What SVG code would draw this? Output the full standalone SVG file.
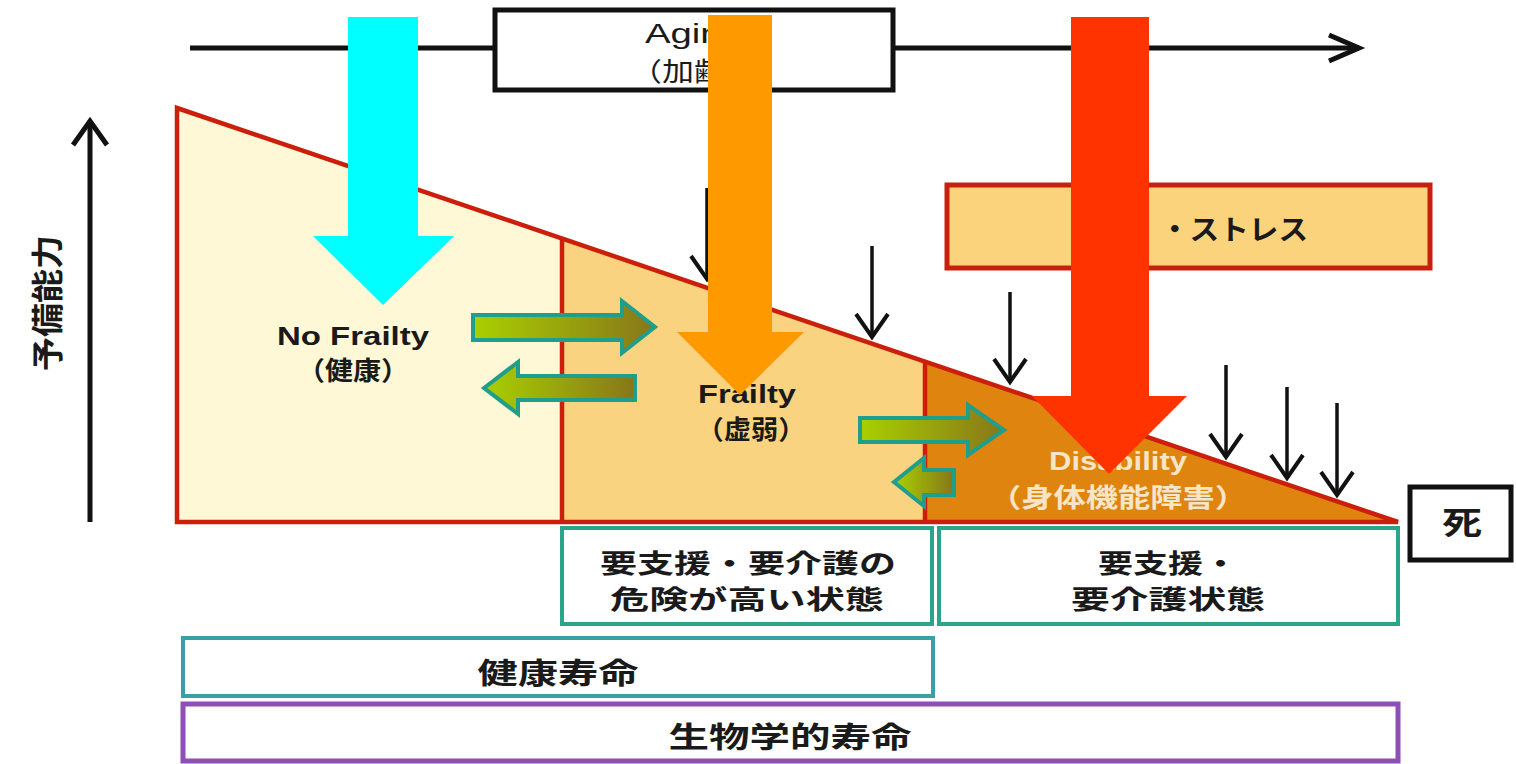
<svg xmlns="http://www.w3.org/2000/svg" width="1516" height="764" viewBox="0 0 1516 764">
<style>
.jp{font-family:"Noto Sans CJK JP","Noto Sans",sans-serif;font-weight:bold;fill:#1a1a1a;text-anchor:middle}
.en{font-family:"Liberation Sans","DejaVu Sans",sans-serif;font-weight:bold;fill:#1a1a1a;text-anchor:middle}
.light{fill:#F6E5C6}
.thin{stroke:#111;stroke-width:3.5;fill:none}
.garrow{fill:url(#gg);stroke:#1F9E8C;stroke-width:4;stroke-linejoin:miter}
.teal{fill:#fff;stroke:#2AA58A;stroke-width:4}
</style>
<defs>
<linearGradient id="gg" x1="0" y1="0" x2="1" y2="0">
<stop offset="0" stop-color="#A9D000"/>
<stop offset="1" stop-color="#88761A"/>
</linearGradient>
<marker id="chev" markerUnits="userSpaceOnUse" markerWidth="40" markerHeight="40" viewBox="-30 -20 40 40" refX="0" refY="0" orient="auto">
<path d="M-23,-16 L0,0 L-23,16" fill="none" stroke="#111" stroke-width="4"/>
</marker>
<marker id="chevBig" markerUnits="userSpaceOnUse" markerWidth="44" markerHeight="44" viewBox="-34 -22 44 44" refX="0" refY="0" orient="auto">
<path d="M-30,-13 L0,0 L-30,13" fill="none" stroke="#111" stroke-width="5"/>
</marker>
<marker id="chevAxis" markerUnits="userSpaceOnUse" markerWidth="44" markerHeight="44" viewBox="-30 -22 44 44" refX="0" refY="0" orient="auto">
<path d="M-24,-17 L0,0 L-24,17" fill="none" stroke="#111" stroke-width="5"/>
</marker>
</defs>
<rect width="1516" height="764" fill="#ffffff"/>

<g id="axis-aging">
<line x1="190" y1="48" x2="1359" y2="48" stroke="#111" stroke-width="5" marker-end="url(#chevBig)"/>
</g>
<g id="node-aging">
<rect x="495" y="10" width="398" height="80" fill="#fff" stroke="#111" stroke-width="5"/>
<text class="en" x="694" y="43" font-size="28" textLength="98" lengthAdjust="spacingAndGlyphs" style="font-weight:normal">Aging</text>
<text class="jp" x="694" y="81" font-size="26" textLength="128" lengthAdjust="spacingAndGlyphs" style="font-weight:normal">（加齢）</text>
</g>

<g id="axis-reserve">
<line x1="90" y1="522" x2="90" y2="121" stroke="#111" stroke-width="5" marker-end="url(#chevAxis)"/>
<text class="jp" transform="translate(59,303) rotate(-90)" x="0" y="0" font-size="32" textLength="136" lengthAdjust="spacingAndGlyphs">予備能力</text>
</g>

<g id="node-nofrailty">
<polygon points="177,108 562,238.5 562,522 177,522" fill="#FEF8D6"/>
<text class="en" x="353" y="345" font-size="25" textLength="152" lengthAdjust="spacingAndGlyphs">No Frailty</text>
<text class="jp" x="353" y="380" font-size="26" textLength="112" lengthAdjust="spacingAndGlyphs">（健康）</text>
</g>
<g id="node-frailty">
<polygon points="562,238.5 925,361.6 925,522 562,522" fill="#FAD381"/>
<text class="en" x="747" y="403" font-size="25" textLength="98" lengthAdjust="spacingAndGlyphs">Frailty</text>
<text class="jp" x="751" y="439" font-size="26" textLength="109" lengthAdjust="spacingAndGlyphs">（虚弱）</text>
</g>
<g id="node-disability">
<polygon points="925,361.6 1398,522 925,522" fill="#DE840F"/>
<text class="en light" x="1118" y="470" font-size="25" textLength="138" lengthAdjust="spacingAndGlyphs">Disability</text>
<text class="jp light" x="1118" y="507" font-size="26" textLength="258" lengthAdjust="spacingAndGlyphs">（身体機能障害）</text>
</g>
<g id="triangle-outline" fill="none" stroke="#CB1F0C" stroke-width="4.5">
<polygon points="177,108 1398,522 177,522"/>
<line x1="562" y1="238.5" x2="562" y2="522"/>
<line x1="925" y1="361.6" x2="925" y2="522"/>
</g>

<g id="node-stress">
<rect x="947" y="185" width="483" height="83" fill="#FBD37C" stroke="#C8200E" stroke-width="5"/>
<text class="jp" x="1308" y="240" font-size="28" textLength="148" lengthAdjust="spacingAndGlyphs" style="text-anchor:end">・ストレス</text>
</g>

<g id="node-death">
<rect x="1410" y="487" width="101" height="73" fill="#fff" stroke="#111" stroke-width="5"/>
<text class="jp" x="1462" y="534" font-size="32" textLength="40" lengthAdjust="spacingAndGlyphs">死</text>
</g>

<g id="node-risk">
<rect class="teal" x="562" y="528" width="370" height="96"/>
<text class="jp" x="748" y="573" font-size="26" textLength="296" lengthAdjust="spacingAndGlyphs">要支援・要介護の</text>
<text class="jp" x="747" y="609" font-size="26" textLength="274" lengthAdjust="spacingAndGlyphs">危険が高い状態</text>
</g>
<g id="node-care">
<rect class="teal" x="939" y="528" width="459" height="96"/>
<text class="jp" x="1168" y="573" font-size="26" textLength="140" lengthAdjust="spacingAndGlyphs">要支援・</text>
<text class="jp" x="1168" y="609" font-size="26" textLength="194" lengthAdjust="spacingAndGlyphs">要介護状態</text>
</g>
<g id="node-healthy-life">
<rect x="183" y="638" width="750" height="58" fill="#fff" stroke="#3A9FA6" stroke-width="4"/>
<text class="jp" x="558" y="684" font-size="29" textLength="161" lengthAdjust="spacingAndGlyphs">健康寿命</text>
</g>
<g id="node-bio-life">
<rect x="183" y="704" width="1215" height="57" fill="#fff" stroke="#8E4FB5" stroke-width="5"/>
<text class="jp" x="790" y="748" font-size="29" textLength="243" lengthAdjust="spacingAndGlyphs">生物学的寿命</text>
</g>

<g id="connectors">
<polygon class="garrow" points="473,315 622,315 622,301 655,327 622,353 622,340 473,340"/>
<polygon class="garrow" points="484,388 518,362 518,376 635,376 635,400 518,400 518,414"/>
<polygon class="garrow" points="860,418 968,418 968,405 1004,430 968,455 968,442 860,442"/>
<polygon class="garrow" points="894,482 924,458 924,470 954,470 954,495 924,495 924,506"/>
<line class="thin" x1="707" y1="188" x2="707" y2="279" marker-end="url(#chev)"/>
<line class="thin" x1="872" y1="246" x2="872" y2="337" marker-end="url(#chev)"/>
<line class="thin" x1="1010" y1="292" x2="1010" y2="382" marker-end="url(#chev)"/>
<line class="thin" x1="1226" y1="365" x2="1226" y2="457" marker-end="url(#chev)"/>
<line class="thin" x1="1287" y1="387" x2="1287" y2="478" marker-end="url(#chev)"/>
<line class="thin" x1="1337" y1="403" x2="1337" y2="495" marker-end="url(#chev)"/>
</g>

<g id="overlay-arrows">
<polygon fill="#00FFFF" points="348,17 418,17 418,236 454,236 383,305 313,236 348,236"/>
<polygon fill="#FF9900" points="708,15 772,15 772,332 804,332 740,395 677,332 708,332"/>
<polygon fill="#FF3300" points="1071,17 1149,17 1149,396 1187,396 1109,474 1032,396 1071,396"/>
</g>
</svg>
